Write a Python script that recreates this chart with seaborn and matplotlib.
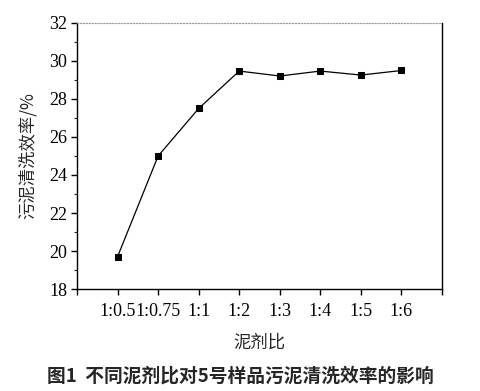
import pandas as pd
import matplotlib
matplotlib.use("Agg")
import matplotlib.pyplot as plt
from matplotlib.ticker import MultipleLocator
import seaborn as sns

sns.set_style("ticks")
plt.rcParams['font.family'] = ['Liberation Serif', 'Noto Sans CJK SC']

ratios = ["1:0.5", "1:0.75", "1:1", "1:2", "1:3", "1:4", "1:5", "1:6"]
efficiency = [19.7, 25.0, 27.5, 29.47, 29.21, 29.47, 29.26, 29.5]

df = pd.DataFrame({"idx": range(len(ratios)), "eff": efficiency})

fig = plt.figure(figsize=(4.81, 3.91), dpi=100)
ax = fig.add_axes([77/481, 1 - 289/391, 365/481, 266/391])

sns.lineplot(data=df, x="idx", y="eff", ax=ax, color="black", lw=0.9,
             marker="s", markersize=5, markeredgecolor="black")

ax.set_xlim(-1, 8)
ax.set_ylim(18, 32)
ax.set_xticks(range(-1, 9))
ax.set_xticklabels([""] + ratios + [""])
ax.yaxis.set_major_locator(MultipleLocator(2))
ax.yaxis.set_minor_locator(MultipleLocator(1))
ax.tick_params(axis="both", direction="out", labelsize=13, colors="black", width=1, length=4)
ax.tick_params(axis="y", which="minor", direction="out", length=2.5, width=0.8)
ax.tick_params(axis="x", pad=6)
ax.tick_params(axis="y", pad=3)
for s in ["left", "bottom", "right"]:
    ax.spines[s].set_color("black")
    ax.spines[s].set_linewidth(1)
ax.spines["top"].set_color("#999999")
ax.spines["top"].set_linestyle(":")

ax.set_xlabel("泥剂比", fontsize=12.5, family=['Noto Sans CJK SC'], labelpad=10)
ax.set_ylabel("污泥清洗效率/%", fontsize=12.5, family=['Noto Sans CJK SC', 'Liberation Serif'], labelpad=9)

fig.text(0.5, 1 - 376/391, "图1  不同泥剂比对5号样品污泥清洗效率的影响", ha="center", va="center",
         fontsize=13.5, fontweight="bold", family=['Noto Sans CJK SC'])

fig.savefig("out.png", dpi=100)
